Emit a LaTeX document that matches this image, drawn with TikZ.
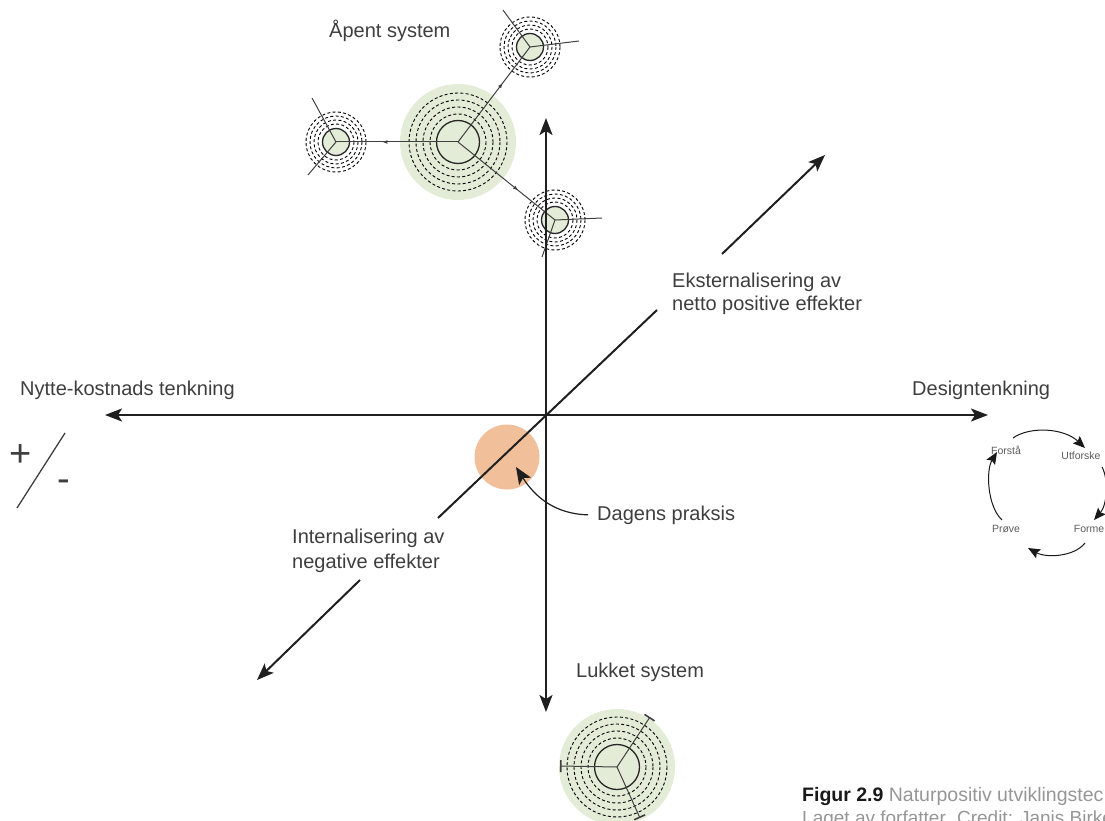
\documentclass[tikz,border=0pt]{standalone}
\usepackage{fontspec}
\setmainfont{Liberation Sans}
\usetikzlibrary{arrows.meta,decorations.markings}

\definecolor{sysgreen}{RGB}{226,236,214}
\definecolor{peach}{RGB}{241,192,155}
\definecolor{ink}{RGB}{62,62,62}
\definecolor{capgray}{RGB}{150,150,150}

\tikzset{
  lbl/.style={font=\fontsize{20}{24}\selectfont, text=ink, inner sep=0pt, anchor=base west},
  cyc/.style={font=\fontsize{10.5}{12}\selectfont, text=ink!85, inner sep=0pt},
  sign/.style={font=\fontsize{38}{42}\selectfont, text=ink, inner sep=0pt, anchor=base},
  ring/.style={draw=black, line width=0.9pt, dash pattern=on 3pt off 2.3pt},
  core/.style={draw=black!85, line width=1.3pt},
  spoke/.style={draw=black!75, line width=1pt},
  flow/.style={spoke, postaction={decorate},
    decoration={markings, mark=at position 0.62 with {\arrow{Latex[length=5pt,width=4pt]}}}},
  axisline/.style={draw=black!88, line width=2pt},
  axis/.style={axisline, arrows={Stealth[length=17pt,width=13pt,inset=4pt]-Stealth[length=17pt,width=13pt,inset=4pt]}},
  bigtip/.style={axisline, arrows={-Stealth[length=17pt,width=13pt,inset=4pt]}},
  pointer/.style={draw=black!88, line width=1.2pt, arrows={-Stealth[length=17pt,width=14pt,inset=4pt]}},
  cycarrow/.style={draw=black!90, line width=1pt, arrows={-Stealth[length=12pt,width=10pt,inset=2pt]}},
  barend/.style={spoke, arrows={-Bar[width=12pt,line width=1.6pt]}},
}

\begin{document}
\begin{tikzpicture}[x=1pt,y=-1pt]
\useasboundingbox (0,0) rectangle (1105,821);
\clip (0,0) rectangle (1105,821);

% centres of the system symbols
\coordinate (O) at (458,142);
\coordinate (T) at (530,47);
\coordinate (L) at (336,142);
\coordinate (B) at (555,220);
\coordinate (C) at (617,767);
\coordinate (P) at (507,457);

% outer spokes of the small systems
\coordinate (T1) at (503,10);
\coordinate (T2) at (579,41);
\coordinate (L1) at (312,98);
\coordinate (L2) at (308,175);
\coordinate (B1) at (602,218);
\coordinate (B2) at (542,257);
% closed system spokes
\coordinate (C1) at (560,766);
\coordinate (C2) at (650,717);
\coordinate (C3) at (640,818);

% soft discs
\fill[sysgreen] (O) circle[radius=58];
\fill[sysgreen] (C) circle[radius=58];
\fill[peach] (P) circle[radius=32.5];

% dashed rings
\foreach \r in {28,35,42,49} \draw[ring] (O) circle[radius=\r];
\foreach \c in {T,L,B} {
  \foreach \r in {18,22,26,30} \draw[ring] (\c) circle[radius=\r];
}
\foreach \r in {29,36,43,50} \draw[ring] (C) circle[radius=\r];

% solid cores
\foreach \c in {T,L,B} \draw[core, fill=sysgreen] (\c) circle[radius=13.5];
\draw[core] (O) circle[radius=21.5];
\draw[core] (C) circle[radius=22.5];

% open system: flows out of the centre
\draw[flow] (O) -- (T);
\draw[flow] (O) -- (L);
\draw[flow] (O) -- (B);
\draw[spoke] (T) -- (T1);
\draw[spoke] (T) -- (T2);
\draw[spoke] (L) -- (L1);
\draw[spoke] (L) -- (L2);
\draw[spoke] (B) -- (B1);
\draw[spoke] (B) -- (B2);

% closed system: spokes stopped by bars
\draw[barend] (C) -- (C1);
\draw[barend] (C) -- (C2);
\draw[barend] (C) -- (C3);

% axes
\coordinate (axN) at (546,118);
\coordinate (axS) at (546,712);
\coordinate (axW) at (105,415);
\coordinate (axE) at (988,415);
\draw[axis] (axS) -- (axN);
\draw[axis] (axW) -- (axE);

% diagonal axis
\coordinate (dgSW) at (438,518);
\coordinate (dgNE) at (657,310);
\draw[axisline] (dgSW) -- (dgNE);
\coordinate (exA) at (722,254);
\coordinate (exB) at (825,155);
\draw[bigtip] (exA) -- (exB);
\coordinate (inA) at (360,580);
\coordinate (inB) at (257,680);
\draw[bigtip] (inA) -- (inB);

% labels
\node[lbl] (open) at (329,38) {Åpent system};
\node[lbl] (ext1) at (672,287) {Eksternalisering av};
\node[lbl] (ext2) at (672,310) {netto positive effekter};
\node[lbl] (cba) at (20,395) {Nytte-kostnads tenkning};
\node[lbl] (dt) at (912,395) {Designtenkning};
\node[lbl] (dagens) at (597,520) {Dagens praksis};
\node[lbl] (int1) at (292,543) {Internalisering av};
\node[lbl] (int2) at (292,568) {negative effekter};
\node[lbl] (closed) at (576,677) {Lukket system};

% pointer to current practice
\coordinate (dagTip) at (516,467);
\draw[pointer] ([xshift=-9pt]dagens.west) .. controls (555,514) and (535,497) .. (dagTip);

% plus / minus
\node[sign] (plus) at (21,466) {+};
\node[sign] (minus) at (64,491) {-};
\coordinate (slA) at (17,508);
\coordinate (slB) at (65,433);
\draw[draw=ink, line width=1.3pt] (slA) -- (slB);

% design thinking cycle
\node[cyc] (fst) at (1006,450) {Forstå};
\node[cyc] (utf) at (1081,456) {Utforske};
\node[cyc] (frm) at (1089,529) {Forme};
\node[cyc] (prv) at (1006,529) {Prøve};
\coordinate (a1s) at (1013,438);
\coordinate (a1e) at (1085,448);
\coordinate (a2s) at (1102,467);
\coordinate (a2e) at (1094,520);
\coordinate (a3s) at (1085,543);
\coordinate (a3e) at (1028,548);
\coordinate (a4s) at (1002,520);
\coordinate (a4e) at (997,452);
\draw[cycarrow] (a1s) .. controls (1030,426) and (1064,428) .. (a1e);
\draw[cycarrow] (a2s) .. controls (1109,480) and (1107,505) .. (a2e);
\draw[cycarrow] (a3s) .. controls (1074,557) and (1046,558) .. (a3e);
\draw[cycarrow] (a4s) .. controls (987,506) and (986,470) .. (a4e);

% caption
\node[inner sep=0pt, anchor=base west, font=\fontsize{19.5}{22}\selectfont] (cap1) at (802,801)
  {{\bfseries\color{black!90}Figur 2.9} {\color{capgray}Naturpositiv utviklingstec}};
\node[inner sep=0pt, anchor=base west, font=\fontsize{19}{22}\selectfont, text=capgray] (cap2) at (802,824)
  {Laget av forfatter. Credit: Janis Birke};
\end{tikzpicture}
\end{document}
